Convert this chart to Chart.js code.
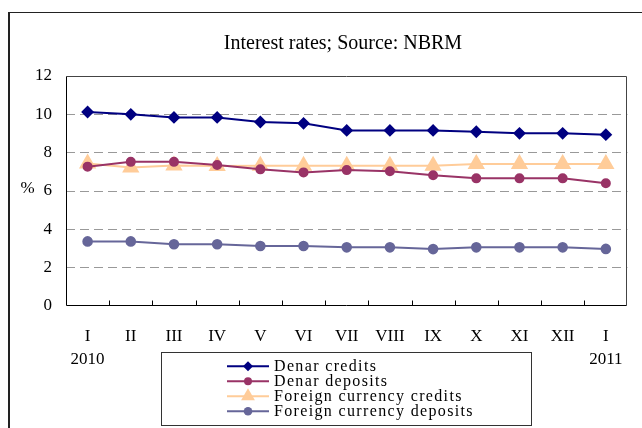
<!DOCTYPE html>
<html>
<head>
<meta charset="utf-8">
<script src="https://cdn.jsdelivr.net/npm/chart.js@4/dist/chart.umd.min.js"></script>
<style>
  html, body { margin: 0; padding: 0; background: #fff; }
  #wrap { position: relative; width: 642px; height: 428px; }
</style>
</head>
<body>
<div id="wrap"><canvas id="c" width="642" height="428"></canvas></div>
<script>
const months = ["I","II","III","IV","V","VI","VII","VIII","IX","X","XI","XII","I"];
const yearLabels = {0: "2010", 12: "2011"};
const denarCredits = [10.12, 10.0, 9.84, 9.84, 9.60, 9.53, 9.16, 9.16, 9.16, 9.09, 9.01, 9.01, 8.94];
const denarDeposits = [7.27, 7.52, 7.52, 7.36, 7.13, 6.97, 7.09, 7.03, 6.82, 6.66, 6.66, 6.66, 6.40];
const foreignCredits = [7.44, 7.23, 7.33, 7.31, 7.32, 7.32, 7.32, 7.32, 7.32, 7.41, 7.41, 7.41, 7.41];
const foreignDeposits = [3.37, 3.37, 3.22, 3.22, 3.13, 3.13, 3.06, 3.06, 2.97, 3.06, 3.06, 3.06, 2.98];
const yTicks = [0, 2, 4, 6, 8, 10, 12];
const titleText = "Interest rates; Source: NBRM";
const yTitle = "%";

const labels = months.map((m, i) => yearLabels[i] ? [m, yearLabels[i]] : m);
const FONT = "'Liberation Serif', 'DejaVu Serif', serif";

function marker(ctx, style, cx, y, r) {
  ctx.beginPath();
  if (style === 'rectRot') {
    ctx.moveTo(cx, y - r); ctx.lineTo(cx + r, y); ctx.lineTo(cx, y + r); ctx.lineTo(cx - r, y); ctx.closePath();
  } else if (style === 'triangle') {
    ctx.moveTo(cx, y - r); ctx.lineTo(cx + r * 0.866, y + r * 0.5); ctx.lineTo(cx - r * 0.866, y + r * 0.5); ctx.closePath();
  } else {
    ctx.arc(cx, y, r, 0, Math.PI * 2);
  }
  ctx.fill();
}

const extras = {
  id: 'extras',
  beforeDraw(chart) {
    const ctx = chart.ctx;
    ctx.save();
    ctx.fillStyle = '#fff';
    ctx.fillRect(0, 0, chart.width, chart.height);
    ctx.restore();
  },
  beforeDatasetsDraw(chart) {
    const ctx = chart.ctx;
    const a = chart.chartArea;
    const xs = chart.scales.x;
    ctx.save();
    ctx.lineWidth = 1;
    const L = Math.round(a.left) + 0.5, R = Math.round(a.right) - 0.5;
    const T = Math.round(a.top) + 0.5, B = Math.round(a.bottom) - 0.5;
    // top and right border (dark gray)
    ctx.strokeStyle = '#444';
    ctx.beginPath();
    ctx.moveTo(L, T); ctx.lineTo(R, T); ctx.lineTo(R, B);
    ctx.stroke();
    // left and bottom axis lines (black)
    ctx.strokeStyle = '#000';
    ctx.beginPath();
    ctx.moveTo(L, T); ctx.lineTo(L, B); ctx.lineTo(R, B);
    ctx.stroke();
    // inner tick marks between categories
    ctx.beginPath();
    for (let i = 1; i < months.length; i++) {
      const x = Math.round((xs.getPixelForValue(i - 1) + xs.getPixelForValue(i)) / 2) + 0.5;
      ctx.moveTo(x, B);
      ctx.lineTo(x, B - 5);
    }
    ctx.stroke();
    ctx.restore();
  },
  afterDraw(chart) {
    const ctx = chart.ctx;
    const a = chart.chartArea;
    ctx.save();
    // outer frame
    ctx.strokeStyle = '#222';
    ctx.lineWidth = 1;
    ctx.beginPath();
    ctx.moveTo(9, 12.5); ctx.lineTo(700, 12.5);
    ctx.stroke();
    ctx.lineWidth = 2;
    ctx.beginPath();
    ctx.moveTo(9, 12); ctx.lineTo(9, 500);
    ctx.stroke();
    // title
    ctx.fillStyle = '#000';
    ctx.font = "20px " + FONT;
    ctx.textAlign = 'center';
    ctx.textBaseline = 'alphabetic';
    ctx.fillText(titleText, 343, 49);
    // y title
    ctx.font = "17px " + FONT;
    ctx.fillText(yTitle, 27.5, 192.5);
    // legend
    const lx = 161, ly = 352, lw = 370, lh = 73;
    ctx.fillStyle = '#fff';
    ctx.fillRect(lx, ly, lw, lh);
    ctx.strokeStyle = '#333';
    ctx.lineWidth = 1;
    ctx.strokeRect(lx + 0.5, ly + 0.5, lw, lh);
    chart.data.datasets.forEach((ds, i) => {
      const y = 366.3 + i * 15;
      ctx.strokeStyle = ds.borderColor;
      ctx.lineWidth = ds.borderWidth;
      ctx.beginPath();
      ctx.moveTo(227, y);
      ctx.lineTo(269, y);
      ctx.stroke();
      ctx.fillStyle = ds.pointBackgroundColor;
      marker(ctx, ds.pointStyle, 248, y, ds.pointRadius);
      ctx.fillStyle = '#000';
      ctx.font = "16px " + FONT;
      ctx.letterSpacing = '1.35px';
      ctx.textAlign = 'left';
      ctx.textBaseline = 'alphabetic';
      ctx.fillText(ds.label, 274, y + 5);
      ctx.letterSpacing = '0px';
    });
    ctx.restore();
  }
};

new Chart(document.getElementById('c'), {
  type: 'line',
  data: {
    labels: labels,
    datasets: [
      { label: 'Denar credits', data: denarCredits, borderColor: '#000080', backgroundColor: '#000080',
        pointBackgroundColor: '#000080', pointBorderColor: '#000080', pointStyle: 'rectRot', pointRadius: 5, borderWidth: 2 },
      { label: 'Denar deposits', data: denarDeposits, borderColor: '#993366', backgroundColor: '#993366',
        pointBackgroundColor: '#993366', pointBorderColor: '#993366', pointStyle: 'circle', pointRadius: 4, borderWidth: 2 },
      { label: 'Foreign currency credits', data: foreignCredits, borderColor: '#FFCC99', backgroundColor: '#FFCC99',
        pointBackgroundColor: '#FFCC99', pointBorderColor: '#FFCC99', pointStyle: 'triangle', pointRadius: 8, borderWidth: 2 },
      { label: 'Foreign currency deposits', data: foreignDeposits, borderColor: '#666699', backgroundColor: '#666699',
        pointBackgroundColor: '#666699', pointBorderColor: '#666699', pointStyle: 'circle', pointRadius: 4.3, borderWidth: 2 }
    ]
  },
  options: {
    responsive: false,
    animation: false,
    devicePixelRatio: 1,
    layout: { padding: { left: 0, top: 76, right: 12, bottom: 0 } },
    plugins: { legend: { display: false }, title: { display: false }, tooltip: { enabled: false } },
    elements: { line: { tension: 0 }, point: { borderWidth: 0 } },
    scales: {
      x: {
        offset: true,
        grid: { display: false, drawTicks: false },
        border: { display: false },
        ticks: { color: '#000', font: { family: FONT, size: 17, lineHeight: 1.37 }, padding: 19, maxRotation: 0, autoSkip: false },
        afterFit(s) { s.height = 122; }
      },
      y: {
        min: 0, max: 12,
        afterBuildTicks(s) { s.ticks = yTicks.map(v => ({ value: v })); },
        grid: { color: (c) => (c.tick.value === 0 || c.tick.value === 12) ? 'rgba(0,0,0,0)' : '#999', lineWidth: 1, drawTicks: false },
        border: { display: false, dash: [9, 5] },
        ticks: { color: '#000', font: { family: FONT, size: 17 }, padding: 14, autoSkip: false },
        afterFit(s) { s.width = 66; }
      }
    }
  },
  plugins: [extras]
});
</script>
</body>
</html>
